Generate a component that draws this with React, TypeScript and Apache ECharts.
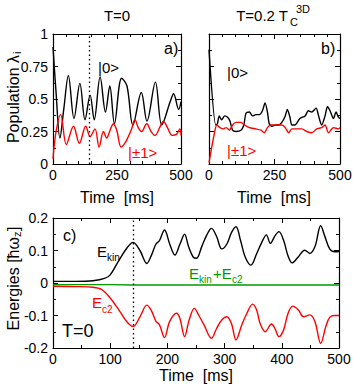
import React, { useEffect, useRef } from "react";
import * as echarts from "echarts";

// Panel a) T=0 populations
const tA0 = [0, 12, 27, 42, 60, 82, 105, 125, 145, 161, 184, 205, 222, 240, 268, 289, 312, 345, 367, 400, 425, 458, 471, 491, 500];
const vA0 = [0.9, 0.55, 0.2, 0.42, 0.68, 0.35, 0.62, 0.34, 0.53, 0.34, 0.67, 0.4, 0.6, 0.31, 0.66, 0.6, 0.3, 0.55, 0.33, 0.63, 0.3, 0.48, 0.54, 0.42, 0.48];
const tA1 = [0, 12, 30, 52, 80, 103, 128, 145, 164, 180, 197, 210, 223, 236, 249, 266, 281, 294, 307, 320, 333, 346, 366, 383, 398, 418, 431, 447, 466, 483, 496, 500];
const vA1 = [0.04, 0.25, 0.38, 0.15, 0.29, 0.16, 0.29, 0.21, 0.27, 0.13, 0.25, 0.2, 0.26, 0.31, 0.26, 0.13, 0.16, 0.21, 0.27, 0.34, 0.28, 0.25, 0.31, 0.25, 0.22, 0.285, 0.33, 0.28, 0.22, 0.23, 0.27, 0.22];

// Panel b) T=0.2 Tc populations
const tB0 = [0, 26, 32, 39, 48, 60, 71, 80, 90, 103, 122, 133, 141, 154, 166, 179, 192, 204, 214, 223, 230, 240, 255, 265, 278, 291, 299, 309, 316, 328, 347, 367, 379, 392, 409, 417, 430, 443, 452, 462, 475, 485, 494, 500];
const vB0 = [0.88, 0.3, 0.31, 0.37, 0.34, 0.37, 0.36, 0.33, 0.26, 0.25, 0.26, 0.3, 0.39, 0.4, 0.37, 0.38, 0.38, 0.41, 0.47, 0.4, 0.31, 0.29, 0.3, 0.3, 0.32, 0.37, 0.42, 0.36, 0.3, 0.3, 0.35, 0.37, 0.41, 0.4, 0.43, 0.38, 0.3, 0.37, 0.44, 0.41, 0.35, 0.4, 0.36, 0.35];
const tB1 = [0, 19, 30, 42, 55, 66, 78, 90, 103, 122, 135, 154, 179, 198, 211, 223, 236, 258, 278, 291, 304, 316, 335, 354, 373, 392, 411, 430, 443, 456, 475, 494, 500];
const vB1 = [0.01, 0.22, 0.3, 0.28, 0.27, 0.28, 0.26, 0.3, 0.32, 0.32, 0.3, 0.28, 0.27, 0.26, 0.24, 0.28, 0.3, 0.3, 0.3, 0.28, 0.24, 0.27, 0.27, 0.27, 0.25, 0.24, 0.27, 0.28, 0.3, 0.24, 0.28, 0.27, 0.28];

// Panel c) energies
const tKin = [0, 40, 70, 90, 100, 114, 129, 140, 152, 164, 172, 180, 186, 195, 204, 213, 222, 230, 237, 245, 251, 260, 269, 277, 286, 295, 304, 312, 320, 328, 336, 346, 356, 365, 373, 380, 388, 395, 403, 411, 418, 429, 440, 449, 458, 468, 475, 484, 493, 500];
const vKin = [0.005, 0.005, 0.007, 0.014, 0.025, 0.066, 0.107, 0.125, 0.1, 0.06, 0.085, 0.12, 0.13, 0.163, 0.12, 0.086, 0.12, 0.15, 0.112, 0.08, 0.076, 0.112, 0.148, 0.168, 0.143, 0.105, 0.12, 0.155, 0.173, 0.13, 0.08, 0.055, 0.09, 0.125, 0.148, 0.122, 0.145, 0.158, 0.132, 0.083, 0.062, 0.081, 0.101, 0.091, 0.112, 0.176, 0.145, 0.104, 0.096, 0.097];
const tC2 = [0, 40, 70, 85, 100, 117, 129, 140, 152, 164, 172, 180, 186, 195, 204, 216, 222, 230, 238, 247, 255, 264, 277, 286, 295, 304, 312, 320, 330, 339, 349, 356, 362, 371, 382, 388, 395, 403, 411, 419, 429, 438, 449, 458, 468, 477, 484, 493, 500];
const vC2 = [-0.01, -0.011, -0.013, -0.02, -0.046, -0.088, -0.119, -0.134, -0.104, -0.068, -0.085, -0.118, -0.128, -0.168, -0.118, -0.093, -0.11, -0.165, -0.114, -0.078, -0.1, -0.129, -0.17, -0.14, -0.114, -0.104, -0.125, -0.175, -0.129, -0.093, -0.065, -0.083, -0.124, -0.15, -0.126, -0.14, -0.165, -0.145, -0.093, -0.071, -0.083, -0.104, -0.098, -0.119, -0.186, -0.134, -0.105, -0.1, -0.1];
const tSum = [0, 100, 140, 200, 300, 400, 500];
const vSum = [-0.005, -0.005, -0.006, -0.006, -0.006, -0.006, -0.006];

const popTicks = ["0", "0.25", "0.5", "0.75", "1"];
const timeMarker = 140;

const FONT = "Liberation Sans, Arial, sans-serif";
const zip = (t: number[], v: number[]) => t.map((x, i) => [x, v[i]]);

function axisBase(extra: any) {
  return {
    axisLine: { show: true, onZero: false, lineStyle: { color: "#000", width: 1.2 } },
    axisTick: { show: true, inside: true, length: 5, lineStyle: { color: "#000", width: 1 } },
    minorTick: { show: true, splitNumber: 2, length: 3, lineStyle: { color: "#000", width: 1 } },
    splitLine: { show: false },
    minorSplitLine: { show: false },
    axisLabel: { show: true, color: "#000", fontSize: 14, fontFamily: FONT, margin: 4 },
    ...extra,
  };
}

export default function App() {
  const ref = useRef<HTMLDivElement>(null);
  useEffect(() => {
    const chart = echarts.init(ref.current!, null, { renderer: "svg" });
    const xA = (grid: number, pos: string, min: number, max: number, interval: number, split: number, label: boolean) =>
      axisBase({
        type: "value", gridIndex: grid, position: pos, min, max, interval,
        minorTick: { show: true, splitNumber: split, length: 3, lineStyle: { color: "#000", width: 1 } },
        axisLabel: { show: label, color: "#000", fontSize: 14, fontFamily: FONT, margin: 4,
          formatter: (v: number) => String(v) },
      });
    const yA = (grid: number, pos: string, min: number, max: number, interval: number, label: boolean, fmt?: any) =>
      axisBase({
        type: "value", gridIndex: grid, position: pos, min, max, interval,
        axisLabel: { show: label, color: "#000", fontSize: 14, fontFamily: FONT, margin: 5, formatter: fmt },
      });
    const line = (data: number[][], color: string, xi: number, yi: number, extra: any = {}) => ({
      type: "line", data, xAxisIndex: xi, yAxisIndex: yi, showSymbol: false, symbol: "none",
      smooth: 0.35, lineStyle: { color, width: 1.4 }, itemStyle: { color }, z: 3, ...extra,
    });
    const marker = {
      silent: true, symbol: ["none", "none"], label: { show: false },
      lineStyle: { type: [1.5, 3], color: "#000", width: 1.3 },
      data: [{ xAxis: timeMarker }],
    };
    const txt = (text: string, x: number, y: number, size: number, color = "#000", align = "left") => ({
      type: "text", x, y, silent: true,
      style: { text, fontSize: size, fontFamily: FONT, fill: color, align, verticalAlign: "middle" },
    });
    const popFmt = (v: number) => popTicks[Math.round(v / 0.25)];
    chart.setOption({
      animation: false,
      grid: [
        { left: 53, top: 34, width: 128, height: 130, outerBoundsMode: "none" },
        { left: 209, top: 34, width: 131, height: 130, outerBoundsMode: "none" },
        { left: 53, top: 218, width: 286, height: 130, outerBoundsMode: "none" },
      ],
      xAxis: [
        xA(0, "bottom", 0, 500, 250, 5, true),
        xA(0, "top", 0, 500, 250, 5, false),
        xA(1, "bottom", 0, 500, 250, 5, true),
        xA(1, "top", 0, 500, 250, 5, false),
        xA(2, "bottom", 0, 500, 100, 2, true),
        xA(2, "top", 0, 500, 100, 2, false),
      ],
      yAxis: [
        yA(0, "left", 0, 1, 0.25, true, popFmt),
        yA(0, "right", 0, 1, 0.25, false),
        yA(1, "left", 0, 1, 0.25, false),
        yA(1, "right", 0, 1, 0.25, false),
        yA(2, "left", -0.2, 0.2, 0.1, true, (v: number) => String(Math.round(v * 10) / 10)),
        yA(2, "right", -0.2, 0.2, 0.1, false),
      ],
      series: [
        line(zip(tA0, vA0), "#000", 0, 0, { markLine: marker }),
        line(zip(tA1, vA1), "#ff0000", 0, 0),
        line(zip(tB0, vB0), "#000", 2, 2, { smooth: 0.25 }),
        line(zip(tB1, vB1), "#ff0000", 2, 2, { smooth: 0.25 }),
        line(zip(tSum, vSum), "#009a00", 4, 4, { smooth: false }),
        line(zip(tKin, vKin), "#000", 4, 4, { markLine: marker }),
        line(zip(tC2, vC2), "#ff0000", 4, 4),
      ],
      graphic: [
        txt("T=0", 117, 15, 15, "#000", "center"),
        txt("T=0.2 T", 288, 15, 15, "#000", "right"),
        txt("C", 290, 22, 11),
        txt("3D", 296, 9, 11),
        txt("Time  [ms]", 117, 197, 16, "#000", "center"),
        txt("Time  [ms]", 274, 197, 16, "#000", "center"),
        txt("Time  [ms]", 196, 375, 16, "#000", "center"),
        txt("a)", 164, 48, 16),
        txt("b)", 321, 48, 16),
        txt("|0>", 98, 67, 15),
        txt("|0>", 227, 72, 15),
        txt("|±1>", 128, 152, 15, "#ff0000"),
        txt("|±1>", 227, 150, 15, "#ff0000"),
        txt("c)", 63, 235, 16),
        txt("E", 97, 251, 15),
        txt("kin", 107, 257, 10),
        txt("E", 92, 302, 15, "#ff0000"),
        txt("c2", 102, 309, 10, "#ff0000"),
        txt("E", 189, 273, 15, "#009a00"),
        txt("kin", 199, 279, 10, "#009a00"),
        txt("+E", 213, 273, 15, "#009a00"),
        txt("c2", 232, 279, 10, "#009a00"),
        txt("T=0", 62, 331, 18),
        {
          type: "group", x: 13, y: 100, rotation: Math.PI / 2,
          children: [
            { type: "text", x: 45, y: 0, style: { text: "Population λ", fontSize: 16, fontFamily: FONT, fill: "#000", align: "right", verticalAlign: "middle" } },
            { type: "text", x: 46, y: 4, style: { text: "i", fontSize: 11, fontFamily: FONT, fill: "#000", align: "left", verticalAlign: "middle" } },
          ],
        },
        {
          type: "group", x: 13, y: 283, rotation: Math.PI / 2,
          children: [
            { type: "text", x: 46, y: 0, style: { text: "Energies [ħω", fontSize: 16, fontFamily: FONT, fill: "#000", align: "right", verticalAlign: "middle" } },
            { type: "text", x: 46, y: 4, style: { text: "z", fontSize: 11, fontFamily: FONT, fill: "#000", align: "left", verticalAlign: "middle" } },
            { type: "text", x: 52, y: 0, style: { text: "]", fontSize: 16, fontFamily: FONT, fill: "#000", align: "left", verticalAlign: "middle" } },
          ],
        },
      ],
    });
    return () => chart.dispose();
  }, []);
  return (
    <div
      ref={ref}
      style={{ position: "fixed", left: 0, top: 0, width: 353, height: 385, background: "#fff" }}
    />
  );
}
